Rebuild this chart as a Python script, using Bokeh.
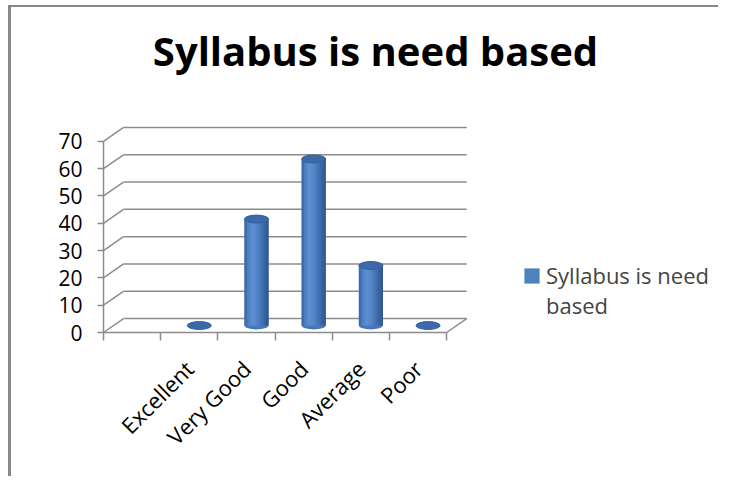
import math
from bokeh.plotting import figure
from bokeh.models import (Range1d, FixedTicker, LinearAxis, Legend, LegendItem, Label)
from bokeh.embed import file_html
from bokeh.resources import INLINE

# ---------------- data ----------------
title_text = "Syllabus is need based"
series_label_lines = ["Syllabus is need", "based"]
categories = ["Excellent", "Very Good", "Good", "Average", "Poor"]
values = [0, 39, 61, 22, 0]
y_ticks = [0, 10, 20, 30, 40, 50, 60, 70]

# ---------------- style ----------------
FONT = "Open Sans"
GRAY = "#8c8c8c"
DX = 0.35      # 3-D depth offset (category units)
DY = 5.1       # 3-D depth offset (value units)
N_SLOTS = 6    # floor slots (first one empty, as in the original)
FIRST = 1
W = 0.42       # cylinder width (category units)
EH = 2.9       # ellipse height (value units)

cx = [FIRST + i + 0.5 for i in range(len(categories))]
cyl_x = [c + DX / 2 for c in cx]
base = DY / 2
tops = [v + base for v in values]

p = figure(width=718, height=476, output_backend="svg", toolbar_location=None,
           x_range=Range1d(-0.105, 10.752), y_range=Range1d(-2.93, 121.6),
           min_border_left=97, min_border_right=0, min_border_top=0,
           min_border_bottom=136, x_axis_type=None, y_axis_type=None)
p.outline_line_color = None
p.background_fill_color = None
p.border_fill_color = None
# outer chart border (left and top edges only, as in the original)
p.styles = {"box-shadow": "inset 8px 5px 0 0 #ffffff, inset 11px 7px 0 0 #888888",
            "background-color": "#ffffff"}

# ---- axes ----
yaxis = LinearAxis(ticker=FixedTicker(ticks=y_ticks), axis_line_color=None,
                   major_tick_in=6, major_tick_out=0, minor_tick_line_color=None,
                   major_tick_line_color=GRAY, major_tick_line_width=1.5,
                   major_label_standoff=15, major_label_text_font=FONT,
                   major_label_text_font_size="21px",
                   major_label_text_color="black")
p.add_layout(yaxis, "left")

xaxis = LinearAxis(ticker=FixedTicker(ticks=cx, minor_ticks=list(range(N_SLOTS + 1))),
                   major_label_overrides={c: lab for c, lab in zip(cx, categories)},
                   axis_line_color=None, major_tick_line_color=None,
                   major_tick_in=0, major_tick_out=0,
                   minor_tick_in=8, minor_tick_out=0, minor_tick_line_color=GRAY,
                   minor_tick_line_width=1.5,
                   major_label_orientation=math.pi / 4, major_label_standoff=24,
                   major_label_text_font=FONT, major_label_text_font_size="22px",
                   major_label_text_color="black")
p.add_layout(xaxis, "below")

# ---- 3-D walls / gridlines ----
p.segment(x0=[DX] * len(y_ticks), y0=[v + DY for v in y_ticks],
          x1=[N_SLOTS + DX] * len(y_ticks), y1=[v + DY for v in y_ticks],
          line_color=GRAY, line_width=1.5)
p.segment(x0=[0] * len(y_ticks), y0=y_ticks,
          x1=[DX] * len(y_ticks), y1=[v + DY for v in y_ticks],
          line_color=GRAY, line_width=1.5)
p.segment(x0=[0, N_SLOTS, 0], y0=[0, 0, 0],
          x1=[N_SLOTS, N_SLOTS + DX, 0], y1=[0, DY, y_ticks[-1]],
          line_color=GRAY, line_width=1.5)

# ---- cylinders ----
nz = [i for i, v in enumerate(values) if v > 0]
p.ellipse(x=[cyl_x[i] for i in nz], y=[base] * len(nz), width=W, height=EH,
          fill_color="#4677B9", line_color=None)
body = p.vbar(x=[cyl_x[i] for i in nz], bottom=base, top=[tops[i] for i in nz],
              width=W, fill_color="#4F81BD", line_color=None)
strip_cols = ["#3E6CAB", "#4B7DC0", "#5789CC", "#5C8ED1", "#5889CC",
              "#5082C4", "#4878B8", "#406EAC", "#38639F", "#315A93"]
ns = len(strip_cols)
for k, col in enumerate(strip_cols):
    off = -W / 2 + (k + 0.5) * W / ns
    p.vbar(x=[cyl_x[i] + off for i in nz], bottom=base, top=[tops[i] for i in nz],
           width=W / ns * 1.08, fill_color=col, line_color=None)
p.ellipse(x=cyl_x, y=tops, width=W, height=EH,
          fill_color="#3B69A9", line_color="#355F9C", line_width=1)

# ---- legend ----
legend = Legend(items=[LegendItem(label=series_label_lines[0], renderers=[body]),
                       LegendItem(label=series_label_lines[1], renderers=[])],
                location=(425, 20), label_text_font=FONT,
                label_text_font_size="22px", glyph_width=19, glyph_height=19,
                label_height=29, label_standoff=5, padding=0, margin=0, spacing=0,
                border_line_color=None, background_fill_alpha=0)
p.add_layout(legend)

# ---- title ----
p.add_layout(Label(x=278, y=290, x_units="screen", y_units="screen",
                   text=title_text, text_align="center",
                   text_baseline="alphabetic", text_font=FONT,
                   text_font_size="40px", text_font_style="bold",
                   text_color="black"))

open("out.html", "w").write(file_html(p, INLINE))
